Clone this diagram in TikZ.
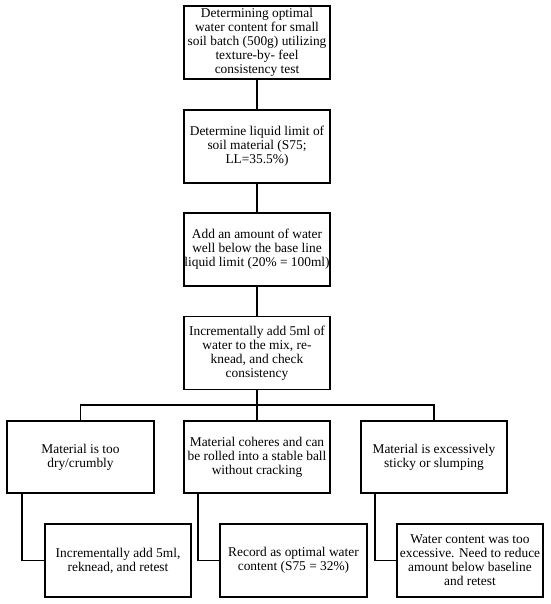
\documentclass[tikz,border=0pt]{standalone}
\usepackage{fontspec}
\setmainfont{Liberation Serif}
\usetikzlibrary{calc}
\begin{document}
\begin{tikzpicture}[x=1pt,y=-1pt,
  box/.style={draw,line width=1.6pt,minimum width=146pt,minimum height=73pt,align=center,inner xsep=0pt,inner ysep=1pt,font=\fontsize{13.4}{14}\selectfont},
  conn/.style={line width=1.6pt}]
\useasboundingbox (0,0) rectangle (550,604);
\node[box] (a) at (257,42.5) {Determining optimal\\water content for small\\soil batch (500g) utilizing\\texture-by- feel\\consistency test};
\node[box] (b) at (257,146.5) {Determine liquid limit of\\soil material (S75;\\LL=35.5\%)};
\node[box] (c) at (257,249.5) {Add an amount of water\\well below the base line\\liquid limit (20\% = 100ml)};
\node[box] (d) at (257,353) {Incrementally add 5ml of\\water to the mix, re-\\knead, and check\\consistency};
\node[box,minimum height=72pt,minimum width=147pt] (l) at (80.5,457) {Material is too\\dry/crumbly};
\node[box,minimum height=72pt] (m) at (257,457) {Material coheres and can\\be rolled into a stable ball\\without cracking};
\node[box,minimum height=72pt] (r) at (434,457) {Material is excessively\\sticky or slumping};
\node[box] (bl) at (118,560.5) {Incrementally add 5ml,\\reknead, and retest};
\node[box,minimum width=147pt] (bm) at (293.5,560.5) {Record as optimal water\\content (S75 = 32\%)};
\node[box] (br) at (470,560.5) {Water content was too\\excessive. Need to reduce\\amount below baseline\\and retest};
\coordinate (hb) at (257,405);
\draw[conn] (a) -- (b);
\draw[conn] (b) -- (c);
\draw[conn] (c) -- (d);
\draw[conn] (d) -- (m);
\draw[conn] (l.north) |- (hb) -| (r.north);
\draw[conn] ($(l.south west)+(16,0)$) |- (bl.west);
\draw[conn] ($(m.south west)+(15,0)$) |- (bm.west);
\draw[conn] ($(r.south west)+(15,0)$) |- (br.west);
\end{tikzpicture}
\end{document}
